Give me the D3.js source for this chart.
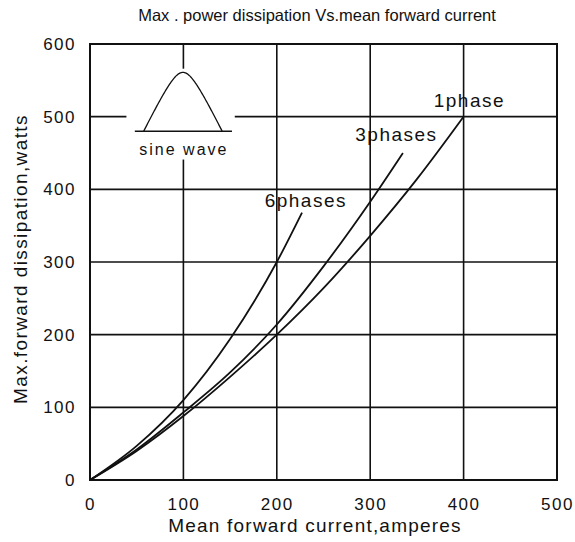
<!DOCTYPE html>
<html>
<head>
<meta charset="utf-8">
<script src="https://cdn.jsdelivr.net/npm/d3@7"></script>
<style>
  html, body { margin: 0; padding: 0; background: #fff; }
  svg text { font-family: "Liberation Sans", Arial, Helvetica, sans-serif; fill: #111; }
</style>
</head>
<body>
<svg id="chart" width="575" height="542"></svg>
<script>
// ---- data ----
const xTicks = [0, 100, 200, 300, 400, 500];
const yTicks = [0, 100, 200, 300, 400, 500, 600];
const seriesNames = ["1phase", "3phases", "6phases"];
const current1 = [0, 50, 100, 150, 200, 250, 300, 350, 400];
const power1   = [0, 40, 88, 142, 200, 264, 336, 414, 500];
const current3 = [0, 50, 100, 150, 200, 250, 300, 335];
const power3   = [0, 42, 93, 148, 214, 294, 383, 450];
const current6 = [0, 50, 100, 150, 200, 227];
const power6   = [0, 47, 110, 194, 300, 368];
// label anchor positions (data units)
const labelX = [368, 284, 187];
const labelY = [513, 466, 376];

const titleText = "Max . power dissipation Vs.mean forward current";
const xTitle = "Mean forward current,amperes";
const yTitle = "Max.forward dissipation,watts";

// ---- layout ----
const margin = {left: 90, top: 44, right: 18, bottom: 62};
const W = 575, H = 542;
const svg = d3.select("#chart");
const x = d3.scaleLinear().domain([0, 500]).range([margin.left, W - margin.right]);
const y = d3.scaleLinear().domain([0, 600]).range([H - margin.bottom, margin.top]);

// gridlines
const grid = svg.append("g").attr("stroke", "#111").attr("stroke-width", 1.6);
grid.selectAll("line.v").data(xTicks.slice(1, -1)).join("line")
  .attr("x1", d => x(d)).attr("x2", d => x(d))
  .attr("y1", y(0)).attr("y2", y(600));
grid.selectAll("line.h").data(yTicks.slice(1, -1)).join("line")
  .attr("x1", x(0)).attr("x2", x(500))
  .attr("y1", d => y(d)).attr("y2", d => y(d));

// frame
svg.append("rect")
  .attr("x", x(0)).attr("y", y(600))
  .attr("width", x(500) - x(0)).attr("height", y(0) - y(600))
  .attr("fill", "none").attr("stroke", "#111").attr("stroke-width", 2);

// axes (labels only)
const xAxis = d3.axisBottom(x).tickValues(xTicks).tickSize(0).tickPadding(18);
const gx = svg.append("g").attr("transform", `translate(0,${y(0)})`).call(xAxis);
gx.select(".domain").remove();
gx.selectAll("text").attr("font-size", 17).style("letter-spacing", "1.5px")
  .style("font-family", "Liberation Sans, Arial, sans-serif").attr("fill", "#111");

const yAxis = d3.axisLeft(y).tickValues(yTicks).tickSize(0).tickPadding(14);
const gy = svg.append("g").attr("transform", `translate(${x(0)},0)`).call(yAxis);
gy.select(".domain").remove();
gy.selectAll("text").attr("font-size", 17).style("letter-spacing", "1.5px")
  .style("font-family", "Liberation Sans, Arial, sans-serif").attr("fill", "#111");

// inset (sine wave) — white box breaking the grid
const inset = svg.append("g");
inset.append("rect")
  .attr("x", x(39)).attr("y", y(566))
  .attr("width", x(155) - x(39)).attr("height", y(441) - y(566))
  .attr("fill", "#fff");
inset.append("line")
  .attr("x1", x(48)).attr("x2", x(152))
  .attr("y1", y(480)).attr("y2", y(480))
  .attr("stroke", "#111").attr("stroke-width", 1.4);
// hump: straight flanks with a rounded crest
const c = 0.32;
const humpPts = d3.range(-1, 1.0001, 0.02).map(u => {
  const f = (Math.sqrt(1 + c * c) - Math.sqrt(u * u + c * c)) / (Math.sqrt(1 + c * c) - c);
  return [99.5 + 42 * u, 480 + 81 * f];
});
inset.append("path")
  .attr("d", d3.line().x(d => x(d[0])).y(d => y(d[1]))(humpPts))
  .attr("fill", "none").attr("stroke", "#111").attr("stroke-width", 1.3);
inset.append("text")
  .attr("x", x(100.5)).attr("y", y(447))
  .attr("text-anchor", "middle").attr("font-size", 16)
  .style("letter-spacing", "2px")
  .text("sine wave");

// curves
const line = d3.line().x(d => x(d[0])).y(d => y(d[1])).curve(d3.curveMonotoneX);
const series = [
  d3.zip(current1, power1),
  d3.zip(current3, power3),
  d3.zip(current6, power6)
];
svg.append("g").selectAll("path").data(series).join("path")
  .attr("d", line)
  .attr("fill", "none").attr("stroke", "#111").attr("stroke-width", 1.8);

// series labels
svg.append("g").selectAll("text").data(seriesNames).join("text")
  .attr("x", (d, i) => x(labelX[i])).attr("y", (d, i) => y(labelY[i]))
  .attr("font-size", 19).style("letter-spacing", "1.5px")
  .text(d => d);

// titles
svg.append("text").attr("x", 317).attr("y", 21)
  .attr("text-anchor", "middle").attr("font-size", 16.5)
  .text(titleText);
svg.append("text").attr("x", 315).attr("y", 532)
  .attr("text-anchor", "middle").attr("font-size", 19)
  .style("letter-spacing", "1.2px")
  .text(xTitle);
svg.append("text")
  .attr("transform", `translate(27,259) rotate(-90)`)
  .attr("text-anchor", "middle").attr("font-size", 19)
  .style("letter-spacing", "1.4px")
  .text(yTitle);
</script>
</body>
</html>
